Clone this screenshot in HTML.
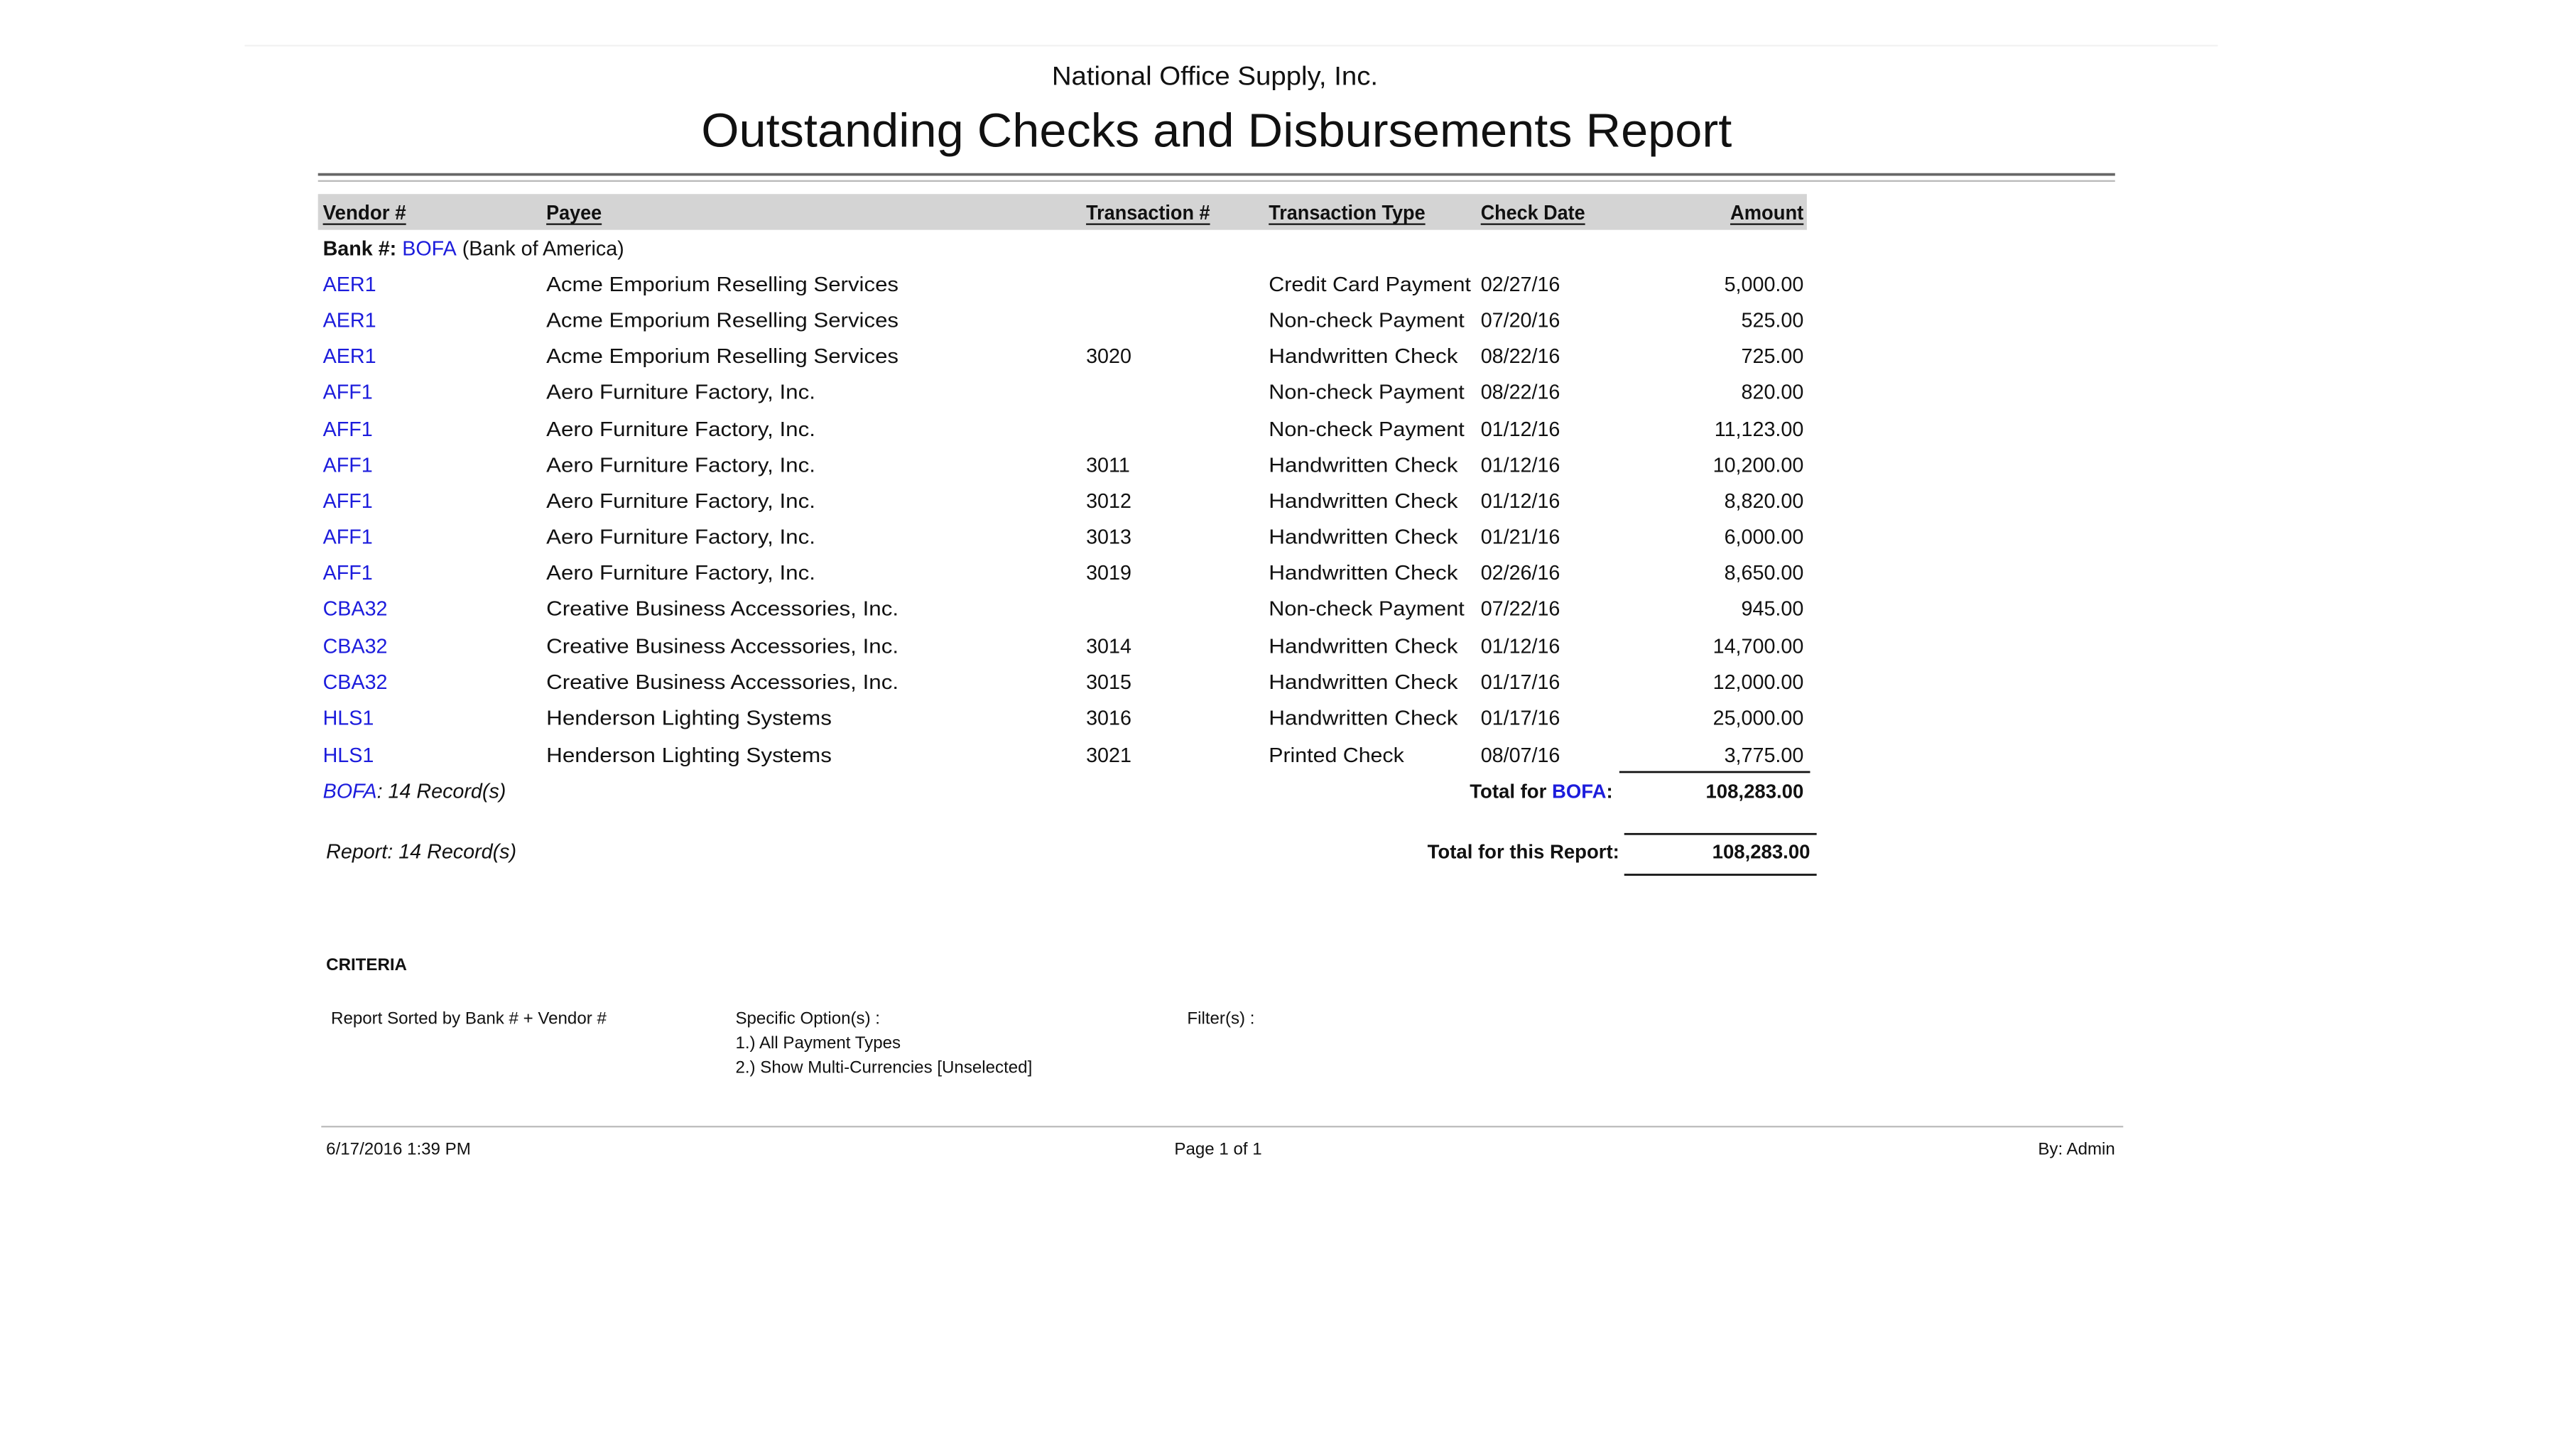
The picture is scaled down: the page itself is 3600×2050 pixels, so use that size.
<!DOCTYPE html>
<html><head><meta charset="utf-8"><style>
html,body{margin:0;padding:0;background:#fff;}
svg{display:block;}
text{font-family:"Liberation Sans",sans-serif;fill:#111;}
.b{font-weight:bold;}
.bl{fill:#1c1cdc;}
.i{font-style:italic;}
</style></head><body>
<svg width="3600" height="2050" viewBox="0 0 1568 893" preserveAspectRatio="none" xmlns="http://www.w3.org/2000/svg">
<line x1="150" y1="28" x2="1360" y2="28" stroke="#f2f2f2" stroke-width="1"/>
<text x="745" y="52" font-size="16" text-anchor="middle" textLength="200" lengthAdjust="spacingAndGlyphs">National Office Supply, Inc.</text>
<text x="746" y="90" font-size="29" text-anchor="middle" textLength="632" lengthAdjust="spacingAndGlyphs">Outstanding Checks and Disbursements Report</text>
<line x1="195" y1="107" x2="1297" y2="107" stroke="#666" stroke-width="1.6"/>
<line x1="195" y1="111" x2="1297" y2="111" stroke="#bbb" stroke-width="1"/>
<rect x="195" y="119" width="913" height="22" fill="#d4d4d4"/>
<g class="b" font-size="12.5">
<text x="198" y="134.5" class="b" textLength="51" lengthAdjust="spacingAndGlyphs">Vendor #</text>
<text x="335" y="134.5" class="b" textLength="34" lengthAdjust="spacingAndGlyphs">Payee</text>
<text x="666" y="134.5" class="b" textLength="76" lengthAdjust="spacingAndGlyphs">Transaction #</text>
<text x="778" y="134.5" class="b" textLength="96" lengthAdjust="spacingAndGlyphs">Transaction Type</text>
<text x="908" y="134.5" class="b" textLength="64" lengthAdjust="spacingAndGlyphs">Check Date</text>
<text x="1061" y="134.5" class="b" textLength="45" lengthAdjust="spacingAndGlyphs">Amount</text>
</g>
<g stroke="#111" stroke-width="1">
<line x1="198" y1="137.5" x2="249" y2="137.5"/><line x1="335" y1="137.5" x2="369" y2="137.5"/>
<line x1="666" y1="137.5" x2="742" y2="137.5"/><line x1="778" y1="137.5" x2="874" y2="137.5"/>
<line x1="908" y1="137.5" x2="972" y2="137.5"/><line x1="1061" y1="137.5" x2="1106" y2="137.5"/>
</g>
<text x="198" y="156.5" font-size="12.5"><tspan class="b">Bank #: </tspan><tspan class="bl">BOFA</tspan> (Bank of America)</text>
<g font-size="12.5">
<text x="198" y="178.5" class="bl">AER1</text><text x="335" y="178.5" textLength="216" lengthAdjust="spacingAndGlyphs">Acme Emporium Reselling Services</text><text x="778" y="178.5" textLength="124" lengthAdjust="spacingAndGlyphs">Credit Card Payment</text><text x="908" y="178.5">02/27/16</text><text x="1106" y="178.5" text-anchor="end">5,000.00</text>
<text x="198" y="200.5" class="bl">AER1</text><text x="335" y="200.5" textLength="216" lengthAdjust="spacingAndGlyphs">Acme Emporium Reselling Services</text><text x="778" y="200.5" textLength="120" lengthAdjust="spacingAndGlyphs">Non-check Payment</text><text x="908" y="200.5">07/20/16</text><text x="1106" y="200.5" text-anchor="end">525.00</text>
<text x="198" y="222.5" class="bl">AER1</text><text x="335" y="222.5" textLength="216" lengthAdjust="spacingAndGlyphs">Acme Emporium Reselling Services</text><text x="666" y="222.5">3020</text><text x="778" y="222.5" textLength="116" lengthAdjust="spacingAndGlyphs">Handwritten Check</text><text x="908" y="222.5">08/22/16</text><text x="1106" y="222.5" text-anchor="end">725.00</text>
<text x="198" y="244.5" class="bl">AFF1</text><text x="335" y="244.5" textLength="165" lengthAdjust="spacingAndGlyphs">Aero Furniture Factory, Inc.</text><text x="778" y="244.5" textLength="120" lengthAdjust="spacingAndGlyphs">Non-check Payment</text><text x="908" y="244.5">08/22/16</text><text x="1106" y="244.5" text-anchor="end">820.00</text>
<text x="198" y="267.5" class="bl">AFF1</text><text x="335" y="267.5" textLength="165" lengthAdjust="spacingAndGlyphs">Aero Furniture Factory, Inc.</text><text x="778" y="267.5" textLength="120" lengthAdjust="spacingAndGlyphs">Non-check Payment</text><text x="908" y="267.5">01/12/16</text><text x="1106" y="267.5" text-anchor="end">11,123.00</text>
<text x="198" y="289.5" class="bl">AFF1</text><text x="335" y="289.5" textLength="165" lengthAdjust="spacingAndGlyphs">Aero Furniture Factory, Inc.</text><text x="666" y="289.5">3011</text><text x="778" y="289.5" textLength="116" lengthAdjust="spacingAndGlyphs">Handwritten Check</text><text x="908" y="289.5">01/12/16</text><text x="1106" y="289.5" text-anchor="end">10,200.00</text>
<text x="198" y="311.5" class="bl">AFF1</text><text x="335" y="311.5" textLength="165" lengthAdjust="spacingAndGlyphs">Aero Furniture Factory, Inc.</text><text x="666" y="311.5">3012</text><text x="778" y="311.5" textLength="116" lengthAdjust="spacingAndGlyphs">Handwritten Check</text><text x="908" y="311.5">01/12/16</text><text x="1106" y="311.5" text-anchor="end">8,820.00</text>
<text x="198" y="333.5" class="bl">AFF1</text><text x="335" y="333.5" textLength="165" lengthAdjust="spacingAndGlyphs">Aero Furniture Factory, Inc.</text><text x="666" y="333.5">3013</text><text x="778" y="333.5" textLength="116" lengthAdjust="spacingAndGlyphs">Handwritten Check</text><text x="908" y="333.5">01/21/16</text><text x="1106" y="333.5" text-anchor="end">6,000.00</text>
<text x="198" y="355.5" class="bl">AFF1</text><text x="335" y="355.5" textLength="165" lengthAdjust="spacingAndGlyphs">Aero Furniture Factory, Inc.</text><text x="666" y="355.5">3019</text><text x="778" y="355.5" textLength="116" lengthAdjust="spacingAndGlyphs">Handwritten Check</text><text x="908" y="355.5">02/26/16</text><text x="1106" y="355.5" text-anchor="end">8,650.00</text>
<text x="198" y="377.5" class="bl">CBA32</text><text x="335" y="377.5" textLength="216" lengthAdjust="spacingAndGlyphs">Creative Business Accessories, Inc.</text><text x="778" y="377.5" textLength="120" lengthAdjust="spacingAndGlyphs">Non-check Payment</text><text x="908" y="377.5">07/22/16</text><text x="1106" y="377.5" text-anchor="end">945.00</text>
<text x="198" y="400.5" class="bl">CBA32</text><text x="335" y="400.5" textLength="216" lengthAdjust="spacingAndGlyphs">Creative Business Accessories, Inc.</text><text x="666" y="400.5">3014</text><text x="778" y="400.5" textLength="116" lengthAdjust="spacingAndGlyphs">Handwritten Check</text><text x="908" y="400.5">01/12/16</text><text x="1106" y="400.5" text-anchor="end">14,700.00</text>
<text x="198" y="422.5" class="bl">CBA32</text><text x="335" y="422.5" textLength="216" lengthAdjust="spacingAndGlyphs">Creative Business Accessories, Inc.</text><text x="666" y="422.5">3015</text><text x="778" y="422.5" textLength="116" lengthAdjust="spacingAndGlyphs">Handwritten Check</text><text x="908" y="422.5">01/17/16</text><text x="1106" y="422.5" text-anchor="end">12,000.00</text>
<text x="198" y="444.5" class="bl">HLS1</text><text x="335" y="444.5" textLength="175" lengthAdjust="spacingAndGlyphs">Henderson Lighting Systems</text><text x="666" y="444.5">3016</text><text x="778" y="444.5" textLength="116" lengthAdjust="spacingAndGlyphs">Handwritten Check</text><text x="908" y="444.5">01/17/16</text><text x="1106" y="444.5" text-anchor="end">25,000.00</text>
<text x="198" y="467.5" class="bl">HLS1</text><text x="335" y="467.5" textLength="175" lengthAdjust="spacingAndGlyphs">Henderson Lighting Systems</text><text x="666" y="467.5">3021</text><text x="778" y="467.5" textLength="83" lengthAdjust="spacingAndGlyphs">Printed Check</text><text x="908" y="467.5">08/07/16</text><text x="1106" y="467.5" text-anchor="end">3,775.00</text>
</g>
<line x1="993" y1="473.5" x2="1110" y2="473.5" stroke="#111" stroke-width="1.2"/>
<text x="198" y="489.5" font-size="12.5" class="i"><tspan class="bl">BOFA</tspan>: 14 Record(s)</text>
<text x="989" y="489.5" font-size="12" class="b" text-anchor="end">Total for <tspan class="bl">BOFA</tspan>:</text>
<text x="1106" y="489.5" font-size="12" class="b" text-anchor="end">108,283.00</text>
<line x1="996" y1="511.5" x2="1114" y2="511.5" stroke="#111" stroke-width="1.2"/>
<text x="200" y="526.5" font-size="12.5" class="i">Report: 14 Record(s)</text>
<text x="993" y="526.5" font-size="12" class="b" text-anchor="end">Total for this Report:</text>
<text x="1110" y="526.5" font-size="12" class="b" text-anchor="end">108,283.00</text>
<line x1="996" y1="536.5" x2="1114" y2="536.5" stroke="#111" stroke-width="1.2"/>
<text x="200" y="595" font-size="10.5" class="b">CRITERIA</text>
<g font-size="10.5">
<text x="203" y="628">Report Sorted by Bank # + Vendor #</text>
<text x="451" y="628">Specific Option(s) :</text>
<text x="451" y="643">1.) All Payment Types</text>
<text x="451" y="658">2.) Show Multi-Currencies [Unselected]</text>
<text x="728" y="628">Filter(s) :</text>
</g>
<line x1="197" y1="691" x2="1302" y2="691" stroke="#bbb" stroke-width="1"/>
<g font-size="10.5">
<text x="200" y="708">6/17/2016 1:39 PM</text>
<text x="747" y="708" text-anchor="middle">Page 1 of 1</text>
<text x="1297" y="708" text-anchor="end">By: Admin</text>
</g>
</svg>
</body></html>
